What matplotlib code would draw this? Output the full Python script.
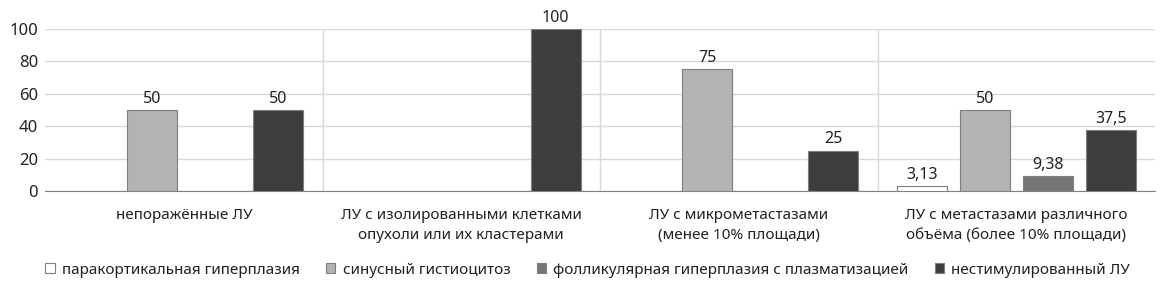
import numpy as np
import matplotlib.pyplot as plt

plt.rcParams["font.family"] = ["Noto Sans", "DejaVu Sans"]

categories = [
    "непоражённые ЛУ",
    "ЛУ с изолированными клетками\nопухоли или их кластерами",
    "ЛУ с микрометастазами\n(менее 10% площади)",
    "ЛУ с метастазами различного\nобъёма (более 10% площади)",
]
series_names = [
    "паракортикальная гиперплазия",
    "синусный гистиоцитоз",
    "фолликулярная гиперплазия с плазматизацией",
    "нестимулированный ЛУ",
]
paracortical = [0, 0, 0, 3.13]
sinus = [50, 0, 75, 50]
follicular = [0, 0, 0, 9.38]
unstimulated = [50, 100, 25, 37.5]
values = [paracortical, sinus, follicular, unstimulated]
value_labels = [
    ["", "", "", "3,13"],
    ["50", "", "75", "50"],
    ["", "", "", "9,38"],
    ["50", "100", "25", "37,5"],
]

colors = ["#ffffff", "#b3b3b3", "#767676", "#3d3d3d"]
W, H = 1164, 292
fig = plt.figure(figsize=(W / 100, H / 100), dpi=100)
ax = fig.add_axes([45 / W, (H - 191) / H, 1110 / W, 162 / H])

x = np.arange(len(categories))
step = 0.227
width = 0.18
handles = []
for i, (vals, labs) in enumerate(zip(values, value_labels)):
    off = (i - 1.5) * step
    xs = [xi + off for xi, v in zip(x, vals) if v > 0]
    vs = [v for v in vals if v > 0]
    ls = [l for l, v in zip(labs, vals) if v > 0]
    b = ax.bar(xs, vs, width, color=colors[i], edgecolor="#7f7f7f",
               linewidth=0.8, zorder=3, label=series_names[i])
    for xx, vv, ll in zip(xs, vs, ls):
        ax.text(xx, vv + 2, ll, ha="center", va="bottom", fontsize=11.5,
                color="#222222", clip_on=False)
    handles.append(b)

ax.set_xlim(-0.5, 3.5)
ax.set_ylim(0, 100)
ax.set_yticks([0, 20, 40, 60, 80, 100])
ax.yaxis.grid(True, color="#d9d9d9", linewidth=1, zorder=0)
for sx in [0.5, 1.5, 2.5]:
    ax.axvline(sx, color="#d9d9d9", linewidth=1, zorder=0)
for s in ["top", "right", "left"]:
    ax.spines[s].set_visible(False)
ax.spines["bottom"].set_color("#808080")
ax.tick_params(axis="y", length=0, labelsize=12, pad=5, labelcolor="#222222")
ax.tick_params(axis="x", length=0, labelsize=11, pad=12, labelcolor="#222222")
ax.set_xticks(x)
ax.set_xticklabels(categories, linespacing=1.5)

fig.legend(handles=handles, labels=series_names, loc="center",
           bbox_to_anchor=(0.505, 1 - 270 / H), ncol=4, frameon=False,
           fontsize=11, handlelength=0.6, handleheight=0.6, handletextpad=0.5,
           columnspacing=1.7, labelcolor="#222222")

fig.savefig("out.png", dpi=100)
